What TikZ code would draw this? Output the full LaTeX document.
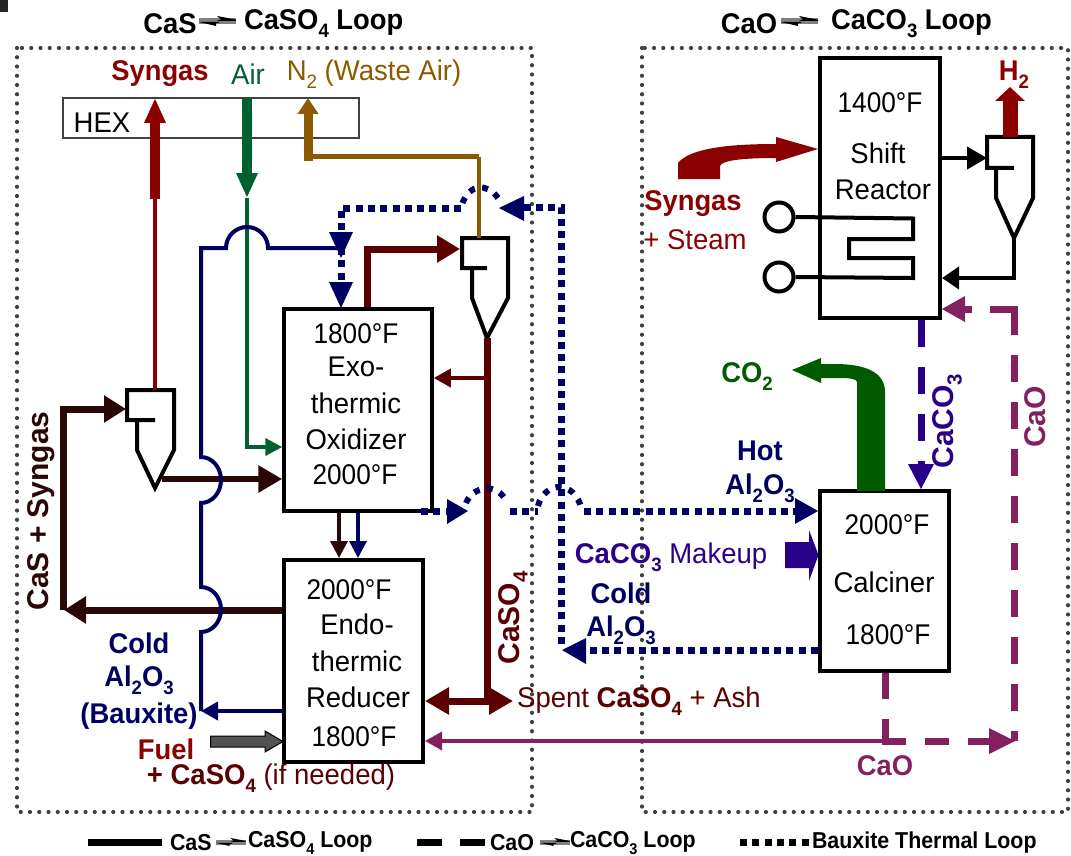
\documentclass[tikz,border=0pt]{standalone}
\usepackage{fontspec}
\usepackage{graphicx}
\setmainfont{Liberation Sans}
\usetikzlibrary{arrows.meta,calc}
\definecolor{navyb}{HTML}{000060}
\definecolor{indig}{HTML}{2A0088}
\definecolor{maro}{HTML}{8B0000}
\definecolor{dkred}{HTML}{5A0000}
\definecolor{blkred}{HTML}{2B0606}
\definecolor{airg}{HTML}{006030}
\definecolor{coog}{HTML}{005A00}
\definecolor{gold}{HTML}{8C5A00}
\definecolor{magn}{HTML}{85205F}
\definecolor{framec}{HTML}{404040}
\newcommand{\sbs}[1]{\raisebox{-.28em}{\scalebox{.68}{#1}}}
\newcommand{\TD}[1]{\scalebox{.92}[1]{#1}}
\newcommand{\TR}[1]{\scalebox{.965}[1]{#1}}
\newcommand{\TB}[1]{\scalebox{.96}[1]{#1}}
\newcommand{\TL}[1]{\scalebox{.93}[1]{#1}}
\tikzset{
  lbl/.style={inner sep=0pt,outer sep=0pt,align=center,font=\fontsize{28.5}{30}\selectfont},
  blbl/.style={lbl,font=\fontsize{28.5}{30}\selectfont\bfseries},
  rlbl/.style={lbl,rotate=90,font=\fontsize{30}{30}\selectfont\bfseries},
  leg/.style={inner sep=0pt,outer sep=0pt,anchor=west,font=\fontsize{23}{24}\selectfont\bfseries},
  frameline/.style={framec,line width=4.2pt,line cap=round,dash pattern=on 0pt off 9.25pt},
  reactor/.style={draw=black,line width=4pt,fill=white,inner sep=0pt,minimum width=#1},
  cyc/.style={draw=black,line width=4pt,line join=miter},
  dots/.style={navyb,line width=7pt,dash pattern=on 7pt off 5.3pt},
  arcdots/.style={navyb,line width=6pt,dash pattern=on 6pt off 7.5pt},
  eqmark/.pic={
    \fill[gray] (0,2) rectangle (37,8.5);
    \fill[black] (18,0) -- (37,3.6) -- (37,4.8) -- (18,4.8) -- (22,3.6) -- cycle;
    \fill[black] (0,6) -- (20,6) -- (20,7.2) -- (17,7.2) -- (17,10) -- cycle;
  }
}
\begin{document}
\begin{tikzpicture}[x=1pt,y=-1pt]
\useasboundingbox (0,0) rectangle (1071,856);
% corner fragment
\fill[black!85] (0,0) rectangle (8,12);

% frames
\coordinate (fa1) at (17,48); \coordinate (fa2) at (532,812);
\coordinate (fb1) at (642,48); \coordinate (fb2) at (1068,812);
\draw[frameline] (fa1) rectangle (fa2);
\draw[frameline] (fb1) rectangle (fb2);

% HEX
\node[draw=framec,line width=1.5pt,minimum width=296pt,minimum height=40pt,inner sep=0pt] (hex) at (211,118) {};
\node[lbl,anchor=center] (hextxt) at (102,123) {\TR{HEX}};

% reactors
\node[reactor=147.5pt,minimum height=202pt] (exo) at (358,409.5) {};
\node[reactor=139pt,minimum height=202pt] (endo) at (353.5,661) {};
\node[reactor=120pt,minimum height=260pt] (shift) at (880,188) {};
\node[reactor=129pt,minimum height=180pt] (calc) at (884.5,581) {};

% port coordinates
\coordinate (cyAtip) at (487,338);
\coordinate (cyAin) at (460,249);
\coordinate (cyAtop) at (479,238);
\coordinate (cyBtip) at (155,488);
\coordinate (cyBin) at (126,409);
\coordinate (cyBtop) at (155,390);
\coordinate (cyCtip) at (1014,238);
\coordinate (cyCin) at (987,158);
\coordinate (cyCtop) at (1010,137);

% cyclones
\draw[cyc] (487,268) -- (462,268) -- (462,238) -- (508,238) -- (508,298) -- (cyAtip) -- (472,298) -- (472,268);
\draw[cyc] (155,420) -- (127,420) -- (127,390) -- (174,390) -- (174,450) -- (cyBtip) -- (137,450) -- (137,420);
\draw[cyc] (1014,168) -- (987,168) -- (987,137) -- (1033,137) -- (1033,198) -- (cyCtip) -- (996,198) -- (996,168);

% serpentine
\node[circle,draw=black,line width=4pt,fill=white,minimum size=29pt,inner sep=0pt] (ca) at (779,217) {};
\node[circle,draw=black,line width=4pt,fill=white,minimum size=29pt,inner sep=0pt] (cb) at (779,277) {};
\draw[black,line width=4pt] (ca.east) -- (913,218.5) -- (913,239) -- (849,239) -- (849,258) -- (913,258) -- (913,278) -- (cb.east);

% Syngas / Air / N2
\coordinate (hexsyn) at (155,98);
\coordinate (syn1) at (155,199);
\draw[maro,line width=4pt] (cyBtop) -- (syn1);
\draw[maro,line width=10pt,-{Triangle[length=25pt,width=20pt]}] (syn1) -- (hexsyn);
\coordinate (air0) at (247,98);
\coordinate (air1) at (247,198);
\coordinate (air2) at (247,447);
\draw[airg,line width=10pt,-{Triangle[length=25pt,width=20pt]}] (air0) -- (air1);
\draw[airg,line width=4pt,-{Triangle[length=17pt,width=17pt]}] (air1) -- (air2) -- (air2 -| exo.west);
\coordinate (n2a) at (479,157);
\coordinate (n2b) at (308,157);
\coordinate (n2c) at (308,98);
\draw[gold,line width=3.5pt] (cyAtop) -- (n2a);
\draw[gold,line width=5pt] (n2a) -- (n2b);
\draw[gold,line width=9pt,-{Triangle[length=16pt,width=20pt]}] (304,157) -- (304,157 -| n2c) -- (n2c);

% dark-red loop
\coordinate (ex1) at (367,249);
\draw[dkred,line width=7pt,-{Triangle[length=23pt,width=26pt]}] (ex1 |- exo.north) -- (ex1) -- (cyAin);
\coordinate (cas1) at (487,701);
\draw[dkred,line width=7pt] (cyAtip) -- (cas1);
\coordinate (cas2) at (487,378);
\draw[dkred,line width=3.5pt,-{Triangle[length=17pt,width=18pt]}] (cas2) -- (cas2 -| exo.east);
\coordinate (cas3) at (513,701);
\draw[dkred,line width=7pt,{Triangle[length=24pt,width=26pt]}-{Triangle[length=24pt,width=26pt]}] (cas1 -| endo.east) -- (cas3);

% CaS + Syngas
\coordinate (lp1) at (63,610);
\coordinate (lp2) at (63,409);
\draw[blkred,line width=7pt,-{Triangle[length=22pt,width=26pt]}] (lp1 -| endo.west) -- (64,610);
\draw[blkred,line width=7pt,-{Triangle[length=22pt,width=26pt]}] (lp1) -- (lp2) -- (cyBin);
\coordinate (cyBo) at (162,479);
\draw[blkred,line width=6pt,-{Triangle[length=24pt,width=26pt]}] (cyBo) -- (cyBo -| exo.west);

% solid bauxite
\coordinate (ba0) at (201,711);
\coordinate (ba1) at (201,248);
\draw[navyb,line width=4pt,-{Triangle[length=17pt,width=18pt]}] (ba0 -| endo.west) -- (ba0);
\draw[navyb,line width=4pt,line join=miter]
  (ba0) -- (201,632) arc[start angle=90,end angle=-90,x radius=20pt,y radius=-22.5pt] -- (201,503)
  arc[start angle=90,end angle=-90,x radius=20pt,y radius=-23pt] -- (ba1) -- (226,248)
  arc[start angle=180,end angle=0,x radius=21pt,y radius=21pt] -- (338,248);

% exo to endo
\coordinate (d1) at (339,0); \coordinate (d2) at (358,0);
\draw[blkred,line width=3.5pt,-{Triangle[length=17pt,width=17pt]}] (d1 |- exo.south) -- (d1 |- endo.north);
\draw[navyb,line width=3.5pt,-{Triangle[length=17pt,width=17pt]}] (d2 |- exo.south) -- (d2 |- endo.north);

% dotted bauxite thermal loop
\coordinate (h0) at (421,511);
\coordinate (h1) at (447,511);
\coordinate (h2) at (468,511);
\draw[dots] (h0) -- (h1);
\fill[navyb] (h2) -- (447,499) -- (447,524) -- cycle;
\draw[arcdots] (466,503) .. controls (473,486) and (497,482) .. (506,501);
\draw[dots] (510,511) -- (538,511);
\draw[arcdots] (538,506) .. controls (544,482) and (574,478) .. (582,510);
\coordinate (h3) at (584,511);
\draw[dots] (h3) -- (795,511);
\fill[navyb] (calc.west |- h3) -- (795,498) -- (795,524) -- cycle;
\coordinate (v0) at (561,644);
\coordinate (v1) at (561,207);
\draw[dots] (v0) -- (v1) -- (524,207);
\fill[navyb] (499,208) -- (524,196) -- (524,221) -- cycle;
\draw[arcdots] (498,198) .. controls (487,183) and (470,183) .. (462,204);
\coordinate (t1) at (461,208);
\coordinate (t2) at (341,208);
\draw[dots] (t1) -- (t2) -- (341,282);
\fill[navyb] (341,258) -- (329,232) -- (353,232) -- cycle;
\fill[navyb] (341,308) -- (329,282) -- (353,282) -- cycle;
\coordinate (c0) at (562,650);
\draw[dots] (calc.west |- c0) -- (586,650);
\fill[navyb] (c0) -- (586,638) -- (586,664) -- cycle;

% shift connections
\draw[black,line width=4pt,-{Triangle[length=20pt,width=22pt]}] (shift.east |- cyCin) -- (cyCin);
\coordinate (scr) at (1014,278);
\draw[black,line width=4pt,-{Triangle[length=17pt,width=22pt]}] (cyCtip) -- (scr) -- (scr -| shift.east);
\coordinate (h2top) at (1010,87);
\draw[maro,line width=15pt,-{Triangle[length=14pt,width=29pt]}] (cyCtop) -- (h2top);

% filled feed arrows
\coordinate (syntip) at (818,149);
\fill[maro] (678,179) -- (678,163) .. controls (690,148) and (730,144) .. (776,144) -- (776,137) -- (syntip) -- (776,162) -- (776,158) .. controls (745,158) and (722,160) .. (720,166) -- (720,179) -- cycle;
\coordinate (cotip) at (792,370);
\fill[coog] (857,491) -- (857,382) .. controls (857,379) and (850,378) .. (840,378) -- (821,378) -- (821,383) -- (cotip) -- (821,358) -- (821,364) -- (835,364) .. controls (865,364) and (885,372) .. (885,392) -- (885,491) -- cycle;
\coordinate (mktip) at (818.5,555);
\fill[indig] (785,542) -- (809,542) -- (809,530) -- (mktip) -- (809,581) -- (809,568) -- (785,568) -- cycle;
\coordinate (futip) at (283,741.5);
\draw[black,line width=1pt,fill=black!68] (210.5,736) -- (265,736) -- (265,731) -- (futip) -- (265,752) -- (265,747) -- (210.5,747) -- cycle;

% dashed CaCO3
\coordinate (cc) at (921,0);
\draw[indig,line width=7pt,dash pattern=on 27pt off 20pt] (cc |- shift.south) -- (921,464);
\fill[indig] (cc |- calc.north) -- (908,464) -- (934,464) -- cycle;

% magenta
\coordinate (m0) at (885,741);
\coordinate (m1) at (1014,741);
\coordinate (m2) at (1014,309);
\draw[magn,line width=3.5pt,-{Triangle[length=17pt,width=18pt]}] (m0) -- (m0 -| endo.east);
\draw[magn,line width=7pt,dash pattern=on 26pt off 20pt] (calc.south -| m0) -- (m0);
\draw[magn,line width=7pt,dash pattern=on 24pt off 19pt] (881.5,741) -- (989,741);
\fill[magn] (1015,741) -- (989,728) -- (989,754) -- cycle;
\draw[magn,line width=7pt,dash pattern=on 27pt off 20pt,dash phase=17pt] (m1) -- (1014,312);
\draw[magn,line width=7pt] (1017.5,309) -- (m2) -- (990,309);
\draw[magn,line width=7pt] (972,309) -- (965,309);
\fill[magn] (m2 -| shift.east) -- (965,296) -- (965,322) -- cycle;

% titles
\node[blbl] (t1a) at (170,24) {\TB{CaS}};
\pic at (199,16) {eqmark};
\node[blbl,anchor=west] (t1b) at (244,24) {\TB{CaSO\sbs{4} Loop}};
\node[blbl] (t2a) at (749,24) {\TB{CaO}};
\pic at (781,16) {eqmark};
\node[blbl,anchor=west] (t2b) at (831,24) {\TB{CaCO\sbs{3} Loop}};

% top labels
\node[blbl,text=maro] (lsyn) at (160,74) {\TB{Syngas}};
\node[lbl,text=airg] (lair) at (248,74) {\TR{Air}};
\node[lbl,text=gold] (ln2) at (374,74) {\TR{N\sbs{2} (Waste Air)}};

% reactor texts
\node[lbl] (e1) at (356,334) {\TD{1800°F}};
\node[lbl] (e2) at (356,367) {\TR{Exo-}};
\node[lbl] (e3) at (356,403) {\TR{thermic}};
\node[lbl] (e4) at (356,439) {\TR{Oxidizer}};
\node[lbl] (e5) at (355,475) {\TD{2000°F}};
\node[lbl] (r1) at (349,590) {\TD{2000°F}};
\node[lbl] (r2) at (357,624) {\TR{Endo-}};
\node[lbl] (r3) at (357,661) {\TR{thermic}};
\node[lbl] (r4) at (358,697) {\TR{Reducer}};
\node[lbl] (r5) at (354,737) {\TD{1800°F}};
\node[lbl] (s1) at (880,103) {\TD{1400°F}};
\node[lbl] (s2) at (878,153) {\TR{Shift}};
\node[lbl] (s3) at (883,190) {\TR{Reactor}};
\node[lbl] (k1) at (887,525) {\TD{2000°F}};
\node[lbl] (k2) at (884,582) {\TR{Calciner}};
\node[lbl] (k3) at (888,635) {\TD{1800°F}};

% other labels
\node[blbl,text=maro] (sy2) at (693,204) {\TB{Syngas}};
\node[lbl,text=maro] (st) at (695,240) {\TR{+ Steam}};
\node[blbl,text=maro] (lh2) at (1014,75) {\TB{H\sbs{2}}};
\node[blbl,text=coog] (lco) at (747,377) {\TB{CO\sbs{2}}};
\node[blbl,text=navyb] (hot) at (760,451) {\TB{Hot}};
\node[blbl,text=navyb] (hal) at (760,488) {\TB{Al\sbs{2}O\sbs{3}}};
\node[lbl,text=indig] (mk) at (671,557) {\TR{\textbf{CaCO\sbs{3}} Makeup}};
\node[blbl,text=navyb] (cold2) at (621,593) {\TB{Cold}};
\node[blbl,text=navyb] (cal2) at (621,630) {\TB{Al\sbs{2}O\sbs{3}}};
\node[rlbl,text=indig] (rcc) at (947,421) {CaCO\sbs{3}};
\node[rlbl,text=magn] (rcao) at (1035,417) {CaO};
\node[blbl,text=magn] (bcao) at (885,766) {\TB{CaO}};
\node[lbl,text=dkred] (sp) at (639,701) {\TR{Spent \textbf{CaSO\sbs{4}} + Ash}};
\node[rlbl,text=dkred] (rcs) at (513,618) {CaSO\sbs{4}};
\node[rlbl,text=blkred] (rsg) at (41,511) {CaS + Syngas};
\node[blbl,text=navyb] (cold1) at (139,643) {\TB{Cold}};
\node[blbl,text=navyb] (al1) at (139,680) {\TB{Al\sbs{2}O\sbs{3}}};
\node[blbl,text=navyb] (bx) at (139,716) {\TB{(Bauxite)}};
\node[blbl,text=maro] (fu) at (166,749) {\TB{Fuel}};
\node[lbl,text=dkred] (ifn) at (271,778) {\TR{\textbf{+ CaSO\sbs{4}} (if needed)}};

% legend
\coordinate (la) at (88,842); \coordinate (lb) at (162,842);
\draw[black,line width=7pt] (la) -- (lb);
\node[leg] (ll1) at (170,843) {\TL{CaS}};
\pic[scale=.8] at (216,838) {eqmark};
\node[leg] (ll2) at (248,843) {\TL{CaSO\sbs{4} Loop}};
\coordinate (lc) at (417,842); \coordinate (ld) at (485,842);
\draw[black,line width=7pt,dash pattern=on 25pt off 18pt] (lc) -- (ld);
\node[leg] (ll3) at (490,843) {\TL{CaO}};
\pic[scale=.8] at (540,838) {eqmark};
\node[leg] (ll4) at (570,843) {\TL{CaCO\sbs{3} Loop}};
\coordinate (le) at (740,842); \coordinate (lf) at (809,842);
\draw[black,line width=7pt,dash pattern=on 7pt off 5.3pt] (le) -- (lf);
\node[leg] (ll5) at (812,843) {\TL{Bauxite Thermal Loop}};
\end{tikzpicture}
\end{document}
